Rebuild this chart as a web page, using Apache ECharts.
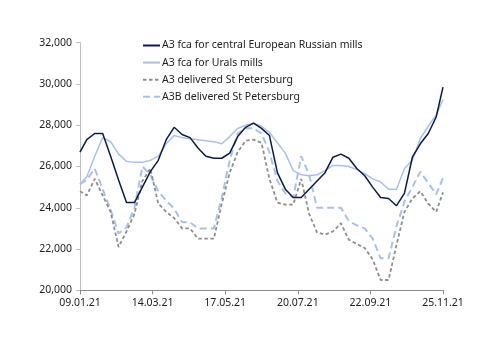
<!DOCTYPE html>
<html>
<head>
<meta charset="utf-8">
<script src="https://cdn.jsdelivr.net/npm/echarts@6/dist/echarts.min.js"></script>
<style>
html,body{margin:0;padding:0;background:#fff;}
#chart{width:500px;height:353px;}
</style>
</head>
<body>
<div id="chart"></div>
<script>
// Observation dates
var dates = [
  '2021-01-09','2021-01-15','2021-01-22','2021-01-29','2021-02-05','2021-02-12','2021-02-19','2021-02-26',
  '2021-03-05','2021-03-12','2021-03-19','2021-03-26','2021-04-02','2021-04-09','2021-04-16','2021-04-23',
  '2021-04-30','2021-05-07','2021-05-14','2021-05-21','2021-05-28','2021-06-04','2021-06-11','2021-06-18',
  '2021-06-25','2021-07-02','2021-07-09','2021-07-16','2021-07-23','2021-07-30','2021-08-06','2021-08-13',
  '2021-08-20','2021-08-27','2021-09-03','2021-09-10','2021-09-17','2021-09-24','2021-10-01','2021-10-08',
  '2021-10-15','2021-10-22','2021-10-29','2021-11-05','2021-11-12','2021-11-19','2021-11-25'
];
var tickLabels = ['09.01.21','14.03.21','17.05.21','20.07.21','22.09.21','25.11.21'];
var yTicks = [20000, 22000, 24000, 26000, 28000, 30000, 32000];

var seriesNames = [
  'A3 fca for central European Russian mills',
  'A3 fca for Urals mills',
  'A3 delivered St Petersburg',
  'A3B delivered St Petersburg'
];
var centralEU = [26700,27300,27600,27600,26500,25350,24250,24250,25000,25750,26300,27300,27900,27550,27400,26900,
  26500,26400,26400,26650,27450,27900,28100,27850,27500,25700,24900,24500,24500,24900,25300,25700,
  26450,26600,26400,25900,25550,25000,24500,24450,24100,24700,26450,27100,27600,28400,29850];
var urals = [25150,25500,26500,27400,27200,26600,26250,26200,26200,26300,26500,27100,27500,27400,27350,27300,
  27250,27200,27100,27450,27850,28000,28100,27950,27650,27150,26650,25800,25600,25550,25600,25800,
  26050,26050,26000,25850,25650,25400,25250,24900,24900,25900,26300,27350,27950,28500,29250];
var a3Spb = [24800,24600,25400,24600,23800,22100,22850,23700,25300,25900,24200,23800,23500,23000,23000,22500,
  22500,22500,24200,25700,26700,27250,27300,27150,25400,24250,24150,24150,25400,23700,22800,22700,
  22850,23250,22450,22250,22050,21500,20500,20500,22200,23800,24450,24800,24200,23800,24750];
var a3bSpb = [25150,25350,25900,24900,23900,22750,23050,24000,26000,25600,24800,24350,23950,23300,23300,23000,
  23000,23000,24500,26300,27600,27850,27850,27600,26700,25300,24700,24500,26500,25600,24000,24000,
  24000,24000,23350,23150,23000,22500,21550,21550,23100,24300,25000,25750,25200,24650,25450];

var DAY = 86400000;
var t0 = Date.parse(dates[0]);
var dayOffsets = dates.map(function(d){ return Math.round((Date.parse(d) - t0) / DAY); });
function pairs(vals){ return vals.map(function(v,i){ return [dayOffsets[i], v]; }); }

var font = 'Noto Sans';
var chart = echarts.init(document.getElementById('chart'), null, {renderer:'canvas'});
chart.setOption({
  animation:false,
  backgroundColor:'#ffffff',
  textStyle:{fontFamily:font},
  grid:{left:80, right:57, top:42.7, bottom:62.7, containLabel:false},
  legend:{
    orient:'vertical', left:142, top:40, itemWidth:17, itemHeight:10, itemGap:6.1,
    padding:0,
    itemStyle:{opacity:0},
    textStyle:{fontFamily:font, fontSize:10.5, color:'#222', padding:[0,0,0,-3]},
    data:seriesNames
  },
  xAxis:{
    type:'value', min:0, max:320, interval:64,
    axisLine:{show:true, lineStyle:{color:'#8c8c8c', width:1}},
    axisTick:{show:true, length:4, lineStyle:{color:'#8c8c8c'}},
    splitLine:{show:false},
    axisLabel:{fontFamily:font, fontSize:10.5, color:'#222', margin:7,
      formatter:function(v){ return tickLabels[Math.round(v/64)] || ''; }}
  },
  yAxis:{
    type:'value', min:yTicks[0], max:yTicks[yTicks.length-1], interval:2000,
    axisLine:{show:true, lineStyle:{color:'#bfbfbf', width:1}},
    axisTick:{show:true, length:4, lineStyle:{color:'#bfbfbf'}},
    splitLine:{show:false},
    axisLabel:{fontFamily:font, fontSize:10.5, color:'#222', margin:8,
      formatter:function(v){ return v.toLocaleString('en-US'); }}
  },
  series:[
    {name:seriesNames[0], type:'line', data:pairs(centralEU), symbol:'none',
      lineStyle:{color:'#0c1a4a', width:1.5}, itemStyle:{color:'#0c1a4a'}, z:5},
    {name:seriesNames[1], type:'line', data:pairs(urals), symbol:'none',
      lineStyle:{color:'#a9c1e9', width:1.5}, itemStyle:{color:'#a9c1e9'}, z:4},
    {name:seriesNames[2], type:'line', data:pairs(a3Spb), symbol:'none',
      lineStyle:{color:'#8e8e8e', width:1.8, type:[3.5,2.5]}, itemStyle:{color:'#8e8e8e'}, z:3},
    {name:seriesNames[3], type:'line', data:pairs(a3bSpb), symbol:'none',
      lineStyle:{color:'#a9c1e9', width:2, type:[7,4]}, itemStyle:{color:'#a9c1e9'}, z:2}
  ]
});
</script>
</body>
</html>
